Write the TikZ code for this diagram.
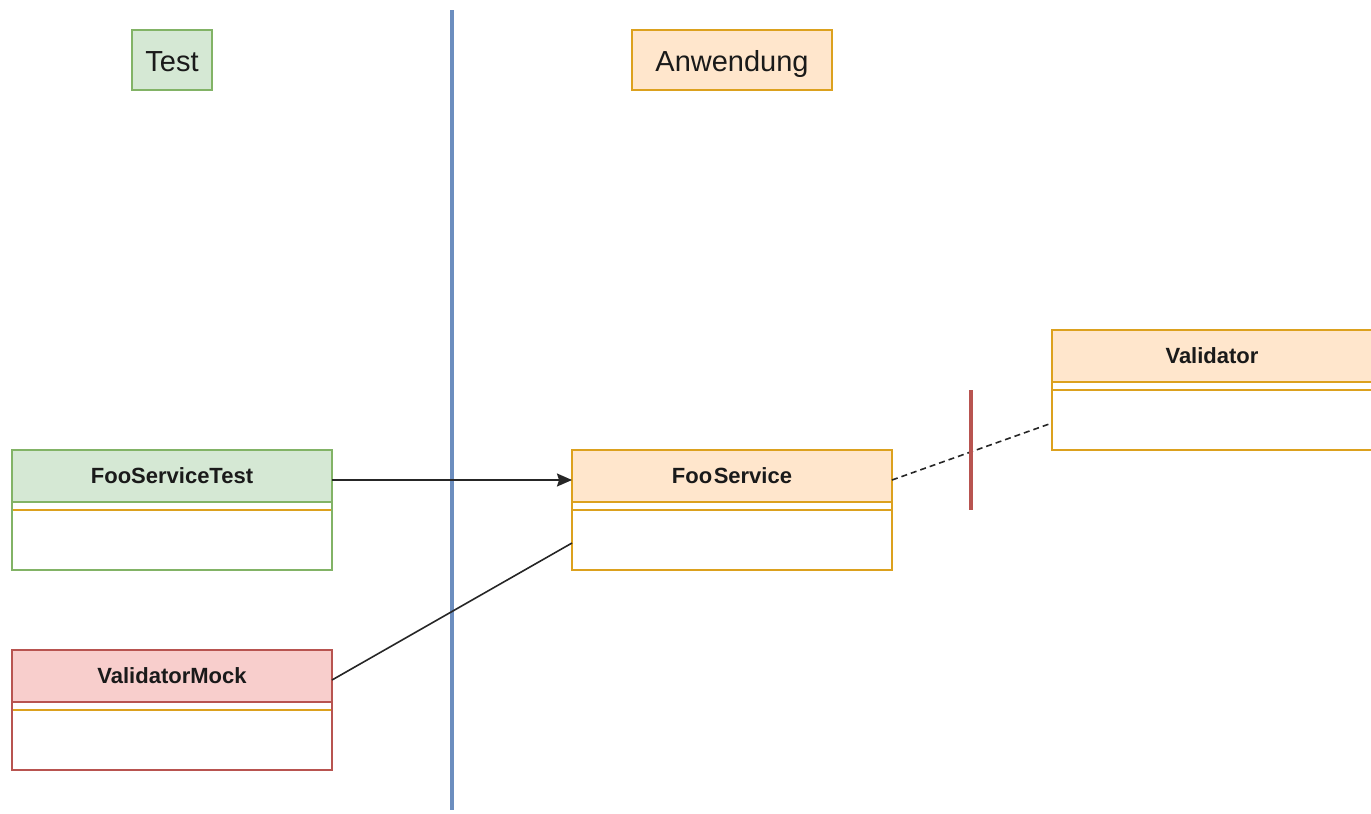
\documentclass[tikz,border=0pt]{standalone}
\usepackage{fontspec}
\setmainfont{Liberation Sans}
\usetikzlibrary{arrows.meta,positioning}

\definecolor{greenFill}{HTML}{D5E8D4}
\definecolor{greenLine}{HTML}{82B366}
\definecolor{redFill}{HTML}{F8CECC}
\definecolor{redLine}{HTML}{B85450}
\definecolor{orangeFill}{HTML}{FFE6CC}
\definecolor{orangeLine}{HTML}{DCA11E}
\definecolor{blueLine}{HTML}{6C8EBF}
\definecolor{textCol}{HTML}{1A1A1A}

\tikzset{
  layer label/.style={draw, line width=1.8pt, inner sep=0pt, minimum height=60pt,
    text height=22pt, text depth=0pt,
    text=textCol, font=\fontsize{29}{34}\selectfont},
  class head/.style={draw, line width=1.8pt, inner sep=0pt, outer sep=0pt,
    minimum width=320pt, minimum height=52pt, anchor=north west, text=textCol,
    font=\fontsize{22}{26}\selectfont\bfseries},
  class body/.style={fill=white, inner sep=0pt, outer sep=0pt,
    minimum width=320pt, minimum height=68pt, below=0pt of #1},
  class frame/.style={draw=#1, line width=1.8pt},
  divider/.style={draw=orangeLine, line width=1.8pt},
  conn/.style={line width=1.6pt, draw=black!85},
  barrier/.style={line width=4pt, line cap=butt},
}

\begin{document}
\begin{tikzpicture}[x=1pt, y=-1pt]
  \useasboundingbox (0,0) rectangle (1371,814);

  % layer headings
  \node[layer label, fill=greenFill, draw=greenLine, minimum width=80pt] (test) at (172,60) {Test};
  \node[layer label, fill=orangeFill, draw=orangeLine, minimum width=200pt] (app) at (732,60) {Anwendung};

  % separating line between test and application code
  \coordinate (sepTop) at (452,10);
  \coordinate (sepBot) at (452,810);
  \draw[barrier, draw=blueLine] (sepTop) -- (sepBot);

  % classes: header and body
  \node[class head, fill=greenFill, draw=greenLine] (fst) at (12,450) {FooServiceTest};
  \node[class body=fst] (fstb) {};
  \node[class head, fill=redFill, draw=redLine] (vm) at (12,650) {ValidatorMock};
  \node[class body=vm] (vmb) {};
  \node[class head, fill=orangeFill, draw=orangeLine] (fs) at (572,450) {Foo\kern1.5pt Service};
  \node[class body=fs] (fsb) {};
  \node[class head, fill=orangeFill, draw=orangeLine] (val) at (1052,330) {Validator};
  \node[class body=val] (valb) {};

  % outer frame, header rule and the orange divider inside each body
  \foreach \h/\b/\c in {fst/fstb/greenLine, vm/vmb/redLine, fs/fsb/orangeLine, val/valb/orangeLine} {
    \draw[divider] ([yshift=-8pt]\b.north west) -- ([yshift=-8pt]\b.north east);
    \draw[class frame=\c] (\h.south west) -- (\h.south east);
    \draw[class frame=\c] (\h.north west) rectangle (\b.south east);
  }

  % connectors
  \draw[conn, -{Stealth[length=15pt,width=13pt,inset=2pt]}]
    ([yshift=-4pt]fst.east) -- ([yshift=-4pt]fs.west);
  \draw[conn] ([yshift=-4pt]vm.east) -- ([yshift=-7pt]fsb.west);
  \draw[conn, dash pattern=on 6pt off 4pt] ([yshift=-4pt]fs.east) -- ([yshift=-7pt]valb.west);

  % cut between FooService and the real Validator
  \coordinate (cutTop) at (971,390);
  \coordinate (cutBot) at (971,510);
  \draw[barrier, draw=redLine] (cutTop) -- (cutBot);
\end{tikzpicture}
\end{document}
